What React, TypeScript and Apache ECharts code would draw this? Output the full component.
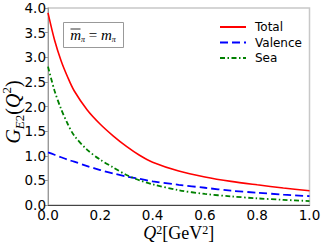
import React, { useEffect, useRef } from "react";
import * as echarts from "echarts";

const q2 = [0, 0.025, 0.05, 0.075, 0.1, 0.15, 0.2, 0.25, 0.3, 0.35, 0.4, 0.5, 0.6, 0.7, 0.8, 0.9, 1.0];
const totalVals = [3.9, 3.35, 2.93, 2.6, 2.32, 1.93, 1.64, 1.4, 1.19, 1.01, 0.87, 0.69, 0.57, 0.48, 0.41, 0.345, 0.29];
const valenceVals = [1.07, 1.02, 0.97, 0.92, 0.88, 0.79, 0.71, 0.64, 0.58, 0.53, 0.48, 0.41, 0.35, 0.29, 0.25, 0.21, 0.18];
const seaVals = [2.81, 2.32, 1.95, 1.65, 1.41, 1.12, 0.92, 0.76, 0.61, 0.5, 0.42, 0.3, 0.225, 0.175, 0.135, 0.105, 0.08];
const seriesNames = ["Total", "Valence", "Sea"];

const pairs = (v: number[]) => q2.map((x, i) => [x, v[i]]);

export default function App() {
  const ref = useRef<HTMLDivElement>(null);
  useEffect(() => {
    if (!ref.current) return;
    const chart = echarts.init(ref.current, null, { renderer: "svg" });
    const serif = "'Liberation Serif', 'DejaVu Serif', serif";
    chart.setOption({
      animation: false,
      grid: { left: 48, right: 14.5, top: 8, bottom: 40, show: true, borderColor: "#c8c8c8", borderWidth: 1.5 },
      xAxis: {
        type: "value", min: 0, max: 1, interval: 0.2,
        axisLine: { show: true, lineStyle: { color: "#444", width: 1 } },
        axisTick: { show: false },
        splitLine: { show: false },
        axisLabel: { margin: 3, fontSize: 13.5, color: "#000", fontFamily: "DejaVu Sans", formatter: (v: number) => v.toFixed(1) },
      },
      yAxis: {
        type: "value", min: 0, max: 4, interval: 0.5,
        axisLine: { show: true, lineStyle: { color: "#999", width: 1 } },
        axisTick: { show: true, length: 3, lineStyle: { color: "#999" } },
        splitLine: { show: false },
        axisLabel: { margin: 2, fontSize: 13.5, color: "#000", fontFamily: "DejaVu Sans", formatter: (v: number) => v.toFixed(1) },
      },
      legend: {
        orient: "vertical", left: 214, top: 16,
        itemWidth: 26, itemHeight: 14, itemGap: 3.5,
        itemStyle: { opacity: 0 },
        textStyle: { fontSize: 12, color: "#000", fontFamily: "DejaVu Sans", padding: [0, 0, 0, 4] },
        data: seriesNames,
      },
      series: [
        { name: seriesNames[0], type: "line", data: pairs(totalVals), smooth: 0.3, symbol: "none", lineStyle: { color: "#ff0000", width: 1.6 }, itemStyle: { color: "#ff0000" } },
        { name: seriesNames[1], type: "line", data: pairs(valenceVals), smooth: 0.3, symbol: "none", lineStyle: { color: "#0000ff", width: 1.8, type: [8, 4] }, itemStyle: { color: "#0000ff" } },
        { name: seriesNames[2], type: "line", data: pairs(seaVals), smooth: 0.3, symbol: "none", lineStyle: { color: "#008000", width: 1.8, type: [5, 2.5, 1.5, 2.5] }, itemStyle: { color: "#008000" } },
      ],
      graphic: [
        {
          type: "rect", left: 63, top: 22, shape: { width: 60, height: 25 },
          style: { fill: "#fff", stroke: "#999", lineWidth: 1 }, z: 10,
        },
        {
          type: "text", x: 93, y: 35, z: 11,
          style: {
            text: "{m|m}{s|π}{e| = }{m|m}{s|π}",
            align: "center", verticalAlign: "middle",
            rich: {
              m: { fontFamily: serif, fontStyle: "italic", fontSize: 15, lineHeight: 16, verticalAlign: "middle" },
              s: { fontFamily: serif, fontStyle: "italic", fontSize: 8, lineHeight: 10, verticalAlign: "bottom" },
              e: { fontFamily: serif, fontSize: 15, lineHeight: 16, verticalAlign: "middle" },
            },
          },
        },
        {
          type: "line", z: 11, shape: { x1: 70.5, y1: 29, x2: 80.5, y2: 29 },
          style: { stroke: "#333", lineWidth: 1 },
        },
        {
          type: "text", x: 178.75, y: 233, z: 11,
          style: {
            text: "{i|Q}{p|2}{r|[GeV}{p|2}{r|]}",
            align: "center", verticalAlign: "middle",
            rich: {
              i: { fontFamily: serif, fontStyle: "italic", fontSize: 18, lineHeight: 18, verticalAlign: "bottom" },
              r: { fontFamily: serif, fontSize: 18, lineHeight: 18, verticalAlign: "bottom" },
              p: { fontFamily: serif, fontSize: 12, lineHeight: 18, verticalAlign: "top" },
            },
          },
        },
        {
          type: "text", x: 13, y: 112, rotation: Math.PI / 2, z: 11,
          style: {
            text: "{i|G}{b|E}{c|2}{r|(}{i|Q}{p|2}{r|)}",
            align: "center", verticalAlign: "middle",
            rich: {
              i: { fontFamily: serif, fontStyle: "italic", fontSize: 20, lineHeight: 22, verticalAlign: "middle" },
              r: { fontFamily: serif, fontSize: 20, lineHeight: 22, verticalAlign: "middle" },
              b: { fontFamily: serif, fontStyle: "italic", fontSize: 13, lineHeight: 26, verticalAlign: "bottom" },
              c: { fontFamily: serif, fontSize: 13, lineHeight: 26, verticalAlign: "bottom" },
              p: { fontFamily: serif, fontSize: 13, lineHeight: 16, verticalAlign: "top" },
            },
          },
        },
      ],
    });
    return () => chart.dispose();
  }, []);
  return <div ref={ref} style={{ width: 324, height: 245, position: "absolute", left: 0, top: 0 }} />;
}
